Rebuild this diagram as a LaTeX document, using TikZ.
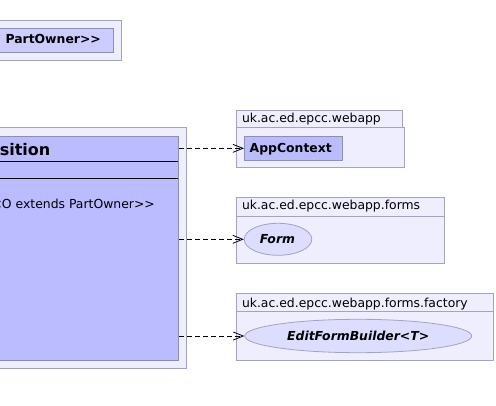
\documentclass[tikz,border=0pt]{standalone}
\usepackage{fontspec}
\setmainfont{DejaVu Sans}[Ligatures=ResetAll]
\usetikzlibrary{arrows.meta,shapes.geometric}
\definecolor{pkgfill}{HTML}{EEEEFF}
\definecolor{pkgline}{HTML}{A3A3BB}
\definecolor{clsfill}{HTML}{BBBBFF}
\definecolor{clsline}{HTML}{8E8EB0}
\definecolor{lightcls}{HTML}{CCCCFF}
\definecolor{ifacefill}{HTML}{DDDDFF}
\tikzset{
  pkgbox/.style={draw=pkgline, fill=pkgfill, line width=1pt, rectangle, inner sep=0pt, anchor=north west},
  clsbox/.style={draw=clsline, fill=clsfill, line width=1pt, rectangle, inner sep=0pt, anchor=north west},
  ifacebox/.style={draw=pkgline, fill=ifacefill, line width=0.8pt, ellipse, inner sep=0pt},
  txt/.style={inner sep=0pt, font=\fontsize{12.4}{14}\selectfont},
  btxt/.style={inner sep=0pt, font=\fontsize{12.4}{14}\selectfont\bfseries},
  bitxt/.style={inner sep=0pt, font=\fontsize{12.4}{14}\selectfont\bfseries\itshape},
  titletxt/.style={inner sep=0pt, font=\fontsize{16}{19}\selectfont\bfseries},
  dep/.style={draw=black, line width=0.8pt, dash pattern=on 5pt off 3pt, -{Straight Barb[length=10pt,width=8pt]}},
}
\begin{document}
\begin{tikzpicture}[x=1pt,y=-1pt]
\useasboundingbox (0,0) rectangle (496,406);
% top-left package with PartOwner>> box
\node[pkgbox, minimum width=125pt, minimum height=40pt] (pkgtop) at (-4,20) {};
\node[pkgbox, fill=lightcls, draw=clsline, minimum width=117pt, minimum height=24pt] (ownerbox) at (-4,28) {};
\node[btxt, anchor=base east] (ownertxt) at (101,44) {PartOwner>{}>};
% big package and class
\node[pkgbox, minimum width=190pt, minimum height=241pt] (pkgmain) at (-4,127) {};
\node[clsbox, minimum width=182pt, minimum height=224.5pt] (cls) at (-4,136) {};
\draw[line width=1pt, black] (-4,162) -- (178,162);
\draw[line width=1pt, black] (-4,179) -- (178,179);
\node[titletxt, anchor=base east] (clstitle) at (50.5,155.5) {sition};
\node[txt, anchor=base east] (clsattr) at (155,208.5) {<O extends PartOwner>{}>};
% package uk.ac.ed.epcc.webapp
\node[pkgbox, minimum width=166.3pt, minimum height=16.7pt] (tabA) at (236,110.3) {};
\node[pkgbox, minimum width=168.3pt, minimum height=40pt] (pkgA) at (236,127) {};
\node[txt, anchor=base west] (nameA) at (241.8,122.7) {uk.ac.ed.epcc.webapp};
\node[clsbox, minimum width=98.3pt, minimum height=23.7pt] (app) at (244,136) {};
\node[btxt, anchor=base west] (apptxt) at (249.5,152.5) {AppContext};
% package uk.ac.ed.epcc.webapp.forms
\node[pkgbox, minimum width=208.3pt, minimum height=18.4pt] (tabB) at (236,197.3) {};
\node[pkgbox, minimum width=208.3pt, minimum height=47.6pt] (pkgB) at (236,215.7) {};
\node[txt, anchor=base west] (nameB) at (241.8,210) {uk.ac.ed.epcc.webapp.forms};
\node[ifacebox, minimum width=67.6pt, minimum height=32pt] (form) at (278,239.3) {};
\node[bitxt, anchor=base] (formtxt) at (277.5,243.5) {Form};
% package uk.ac.ed.epcc.webapp.forms.factory
\node[pkgbox, minimum width=257pt, minimum height=18pt] (tabC) at (236.3,293.3) {};
\node[pkgbox, minimum width=257pt, minimum height=49pt] (pkgC) at (236.3,311.3) {};
\node[txt, anchor=base west] (nameC) at (241.8,307.3) {uk.ac.ed.epcc.webapp.forms.factory};
\node[ifacebox, minimum width=227pt, minimum height=33.4pt] (efb) at (358.2,336) {};
\node[bitxt, anchor=base] (efbtxt) at (358.2,340.5) {EditFormBuilder<T>};
% dependencies
\draw[dep] (cls.east |- app.west) -- (app.west);
\draw[dep] (cls.east |- form.west) -- (form.west);
\draw[dep] (cls.east |- efb.west) -- (efb.west);
\end{tikzpicture}
\end{document}
